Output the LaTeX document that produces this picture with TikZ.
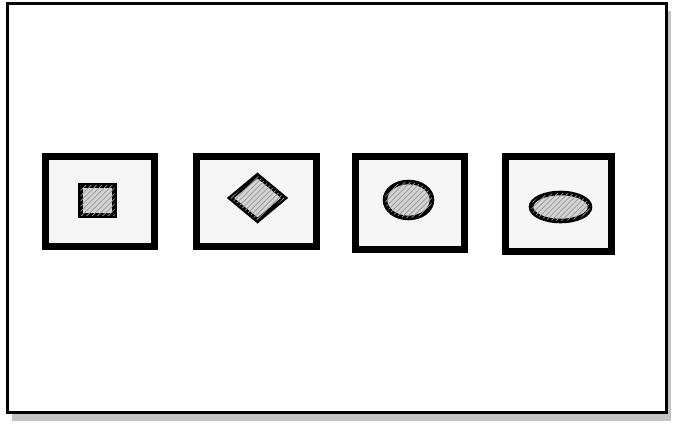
\documentclass[tikz,border=0pt]{standalone}
\usepackage{tikz}
\usetikzlibrary{positioning,shapes.geometric,patterns,shadows}
\definecolor{tilegray}{RGB}{246,246,246}
\definecolor{shapegray}{RGB}{212,212,212}
\definecolor{hatchgray}{RGB}{150,150,150}
\tikzset{
  frame/.style ={rectangle, draw=black, line width=2pt, fill=white,
                 minimum width=13.18cm, minimum height=8.18cm, inner sep=0pt,
                 drop shadow={shadow xshift=0.08cm, shadow yshift=-0.16cm, fill=black!40, opacity=0.6}},
  tile/.style  ={rectangle, draw=black, line width=4.3pt, fill=tilegray, inner sep=0pt},
  inner/.style ={draw=black, line width=2.6pt, fill=shapegray, inner sep=0pt,
                 postaction={pattern=north east lines, pattern color=hatchgray}},
}
\begin{document}
\begin{tikzpicture}
\useasboundingbox (0,0) rectangle (13.5,8.48);
\node[frame] (fr) at (6.74,4.32) {};
% four tiles
\node[tile, minimum width=2.18cm, minimum height=1.8cm]  (t1) at (2.00,4.45) {};
\node[tile, minimum width=2.4cm,  minimum height=1.8cm]  (t2) at (5.13,4.45) {};
\node[tile, minimum width=2.18cm, minimum height=1.86cm] (t3) at (8.20,4.42) {};
\node[tile, minimum width=2.12cm, minimum height=1.9cm]  (t4) at (11.17,4.40) {};
% shapes inside
\node[inner, rectangle, line width=3pt, minimum width=0.68cm, minimum height=0.6cm] (sq) at (1.95,4.47) {};
\node[inner, diamond, minimum width=1.12cm, minimum height=0.94cm] (dm) at (5.15,4.52) {};
\node[inner, ellipse, minimum width=0.94cm, minimum height=0.72cm] (ci) at (8.17,4.48) {};
\node[inner, ellipse, minimum width=1.18cm, minimum height=0.56cm] (el) at (11.21,4.34) {};
\end{tikzpicture}
\end{document}
